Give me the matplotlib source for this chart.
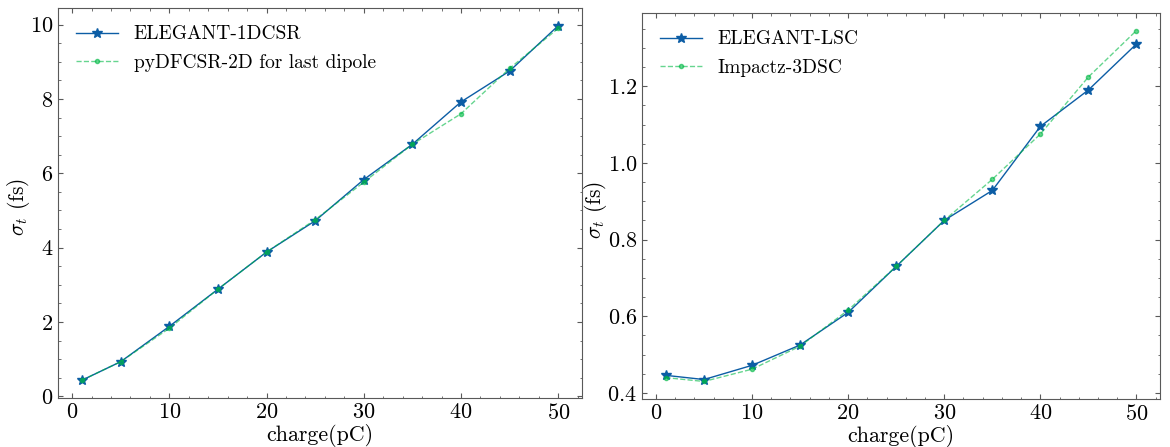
import matplotlib
matplotlib.use("Agg")
import matplotlib.pyplot as plt
from matplotlib.ticker import AutoMinorLocator

# charge points (pC)
charge = [1, 5, 10, 15, 20, 25, 30, 35, 40, 45, 50]

# left panel: CSR
elegant_csr = [0.43, 0.93, 1.88, 2.88, 3.88, 4.72, 5.83, 6.78, 7.92, 8.75, 9.97]
pydfcsr_2d = [0.43, 0.93, 1.83, 2.88, 3.88, 4.75, 5.76, 6.78, 7.60, 8.82, 9.90]

# right panel: space charge
elegant_lsc = [0.446, 0.435, 0.472, 0.525, 0.610, 0.730, 0.850, 0.928, 1.095, 1.190, 1.310]
impactz_3dsc = [0.440, 0.430, 0.462, 0.522, 0.616, 0.730, 0.850, 0.957, 1.075, 1.224, 1.345]

BLUE = "#0C5DA5"
GREEN = "#00B945"

plt.rcParams.update({
    "font.family": "serif",
    "font.serif": ["cmr10", "DejaVu Serif"],
    "mathtext.fontset": "cm",
    "axes.formatter.use_mathtext": True,
    "font.size": 14,
    "xtick.labelsize": 16,
    "ytick.labelsize": 16,
    "axes.linewidth": 0.8,
    "axes.edgecolor": "0.35",
    "xtick.direction": "in",
    "ytick.direction": "in",
    "xtick.top": True,
    "ytick.right": True,
    "xtick.major.size": 3.5,
    "ytick.major.size": 3.5,
    "xtick.minor.size": 1.8,
    "ytick.minor.size": 1.8,
    "xtick.color": "0.35",
    "ytick.color": "0.35",
    "xtick.labelcolor": "black",
    "ytick.labelcolor": "black",
    "xtick.minor.visible": True,
    "ytick.minor.visible": True,
})

fig = plt.figure(figsize=(11.7, 4.47), dpi=100)
ax1 = fig.add_axes([58 / 1170, 49 / 447, 524 / 1170, 390 / 447])
ax2 = fig.add_axes([642 / 1170, 48 / 447, 518 / 1170, 386 / 447])


def draw(ax, y1, y2, lab1, lab2, ylab_x):
    ax.plot(charge, y1, color=BLUE, marker="*", markersize=7.5, linewidth=1, label=lab1)
    ax.plot(charge, y2, color=GREEN, marker="o", markersize=3, linestyle="--",
            linewidth=1, alpha=0.6, label=lab2)
    ax.set_xlabel("charge(pC)", fontsize=15.8, labelpad=1)
    ax.set_ylabel(r"$\sigma_t$ (fs)", fontsize=15.5)
    ax.yaxis.set_label_coords(ylab_x, 0.49)
    ax.xaxis.set_minor_locator(AutoMinorLocator())
    ax.legend(loc="upper left", frameon=False, fontsize=14, handlelength=2.2,
              handletextpad=0.8, borderaxespad=0.5, labelspacing=0.55)


draw(ax1, elegant_csr, pydfcsr_2d, "ELEGANT-1DCSR", "pyDFCSR-2D for last dipole", -0.05)
draw(ax2, elegant_lsc, impactz_3dsc, "ELEGANT-LSC", "Impactz-3DSC", -0.064)
ax1.set_yticks([0, 2, 4, 6, 8, 10])
ax2.set_yticks([0.4, 0.6, 0.8, 1.0, 1.2])
ax1.yaxis.set_minor_locator(AutoMinorLocator(4))
ax2.yaxis.set_minor_locator(AutoMinorLocator(4))

fig.savefig("out.png", dpi=100)
